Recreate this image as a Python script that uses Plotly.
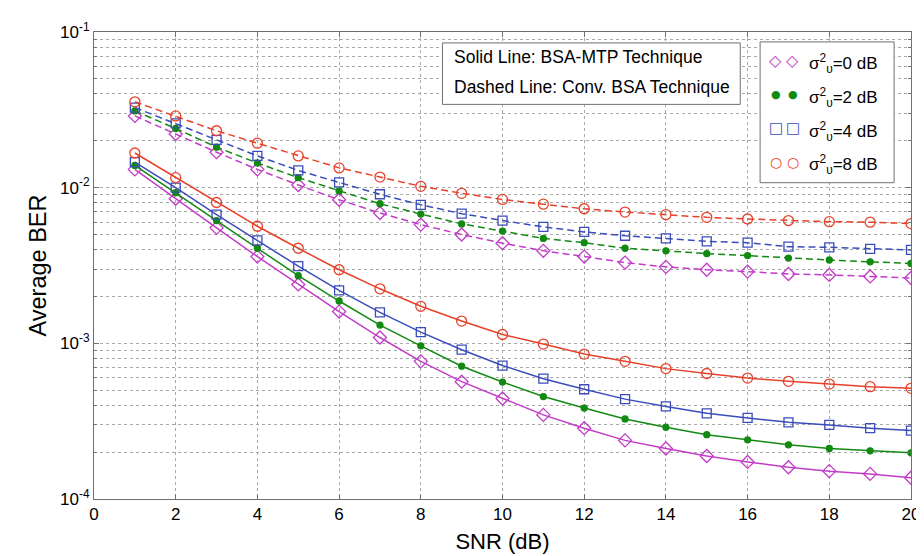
import plotly.graph_objects as go

snr = list(range(1, 21))

# Solid lines: BSA-MTP technique
mtp_0 = [0.0131, 0.00848, 0.00552, 0.00361, 0.00239, 0.00160, 0.00109, 0.000766, 0.000567, 0.000442,
         0.000347, 0.000285, 0.000238, 0.000211, 0.000189, 0.000173, 0.000160, 0.000151, 0.000145, 0.000137]
mtp_2 = [0.0139, 0.00929, 0.00615, 0.00408, 0.00272, 0.00187, 0.00131, 0.000964, 0.000713, 0.000564,
         0.000455, 0.000384, 0.000327, 0.000289, 0.000259, 0.000240, 0.000223, 0.000211, 0.000204, 0.000198]
mtp_4 = [0.0146, 0.0100, 0.00671, 0.00459, 0.00313, 0.00219, 0.00158, 0.00118, 0.000910, 0.000720,
         0.000593, 0.000507, 0.000438, 0.000393, 0.000355, 0.000332, 0.000311, 0.000299, 0.000285, 0.000275]
mtp_8 = [0.0167, 0.0116, 0.00803, 0.00565, 0.00408, 0.00297, 0.00224, 0.00173, 0.00139, 0.00114,
         0.000989, 0.000853, 0.000766, 0.000688, 0.000640, 0.000598, 0.000570, 0.000547, 0.000527, 0.000514]

# Dashed lines: conventional BSA technique
bsa_0 = [0.0289, 0.0221, 0.0169, 0.0131, 0.0104, 0.00836, 0.00687, 0.00579, 0.00500, 0.00440,
         0.00393, 0.00361, 0.00330, 0.00310, 0.00297, 0.00289, 0.00279, 0.00275, 0.00269, 0.00263]
bsa_2 = [0.0311, 0.0240, 0.0182, 0.0144, 0.0116, 0.00953, 0.00788, 0.00677, 0.00585, 0.00526,
         0.00472, 0.00443, 0.00408, 0.00393, 0.00377, 0.00366, 0.00353, 0.00343, 0.00334, 0.00326]
bsa_4 = [0.0327, 0.0259, 0.0203, 0.0160, 0.0129, 0.0108, 0.00907, 0.00776, 0.00681, 0.00615,
         0.00560, 0.00520, 0.00491, 0.00472, 0.00452, 0.00443, 0.00418, 0.00414, 0.00404, 0.00398]
bsa_8 = [0.0356, 0.0289, 0.0232, 0.0193, 0.0160, 0.0134, 0.0117, 0.0102, 0.0092, 0.0084,
         0.00783, 0.00732, 0.00697, 0.00671, 0.00645, 0.00629, 0.00615, 0.00605, 0.00600, 0.00588]

legend_labels = ["σ<sup>2</sup><sub>υ</sub>=0 dB", "σ<sup>2</sup><sub>υ</sub>=2 dB",
                 "σ<sup>2</sup><sub>υ</sub>=4 dB", "σ<sup>2</sup><sub>υ</sub>=8 dB"]
legend_glyphs = ["◇", "●", "□", "○"]
x_ticks = [0, 2, 4, 6, 8, 10, 12, 14, 16, 18, 20]
y_ticks = [1e-4, 1e-3, 1e-2, 1e-1]
y_ticktext = ["10<sup>-4</sup>", "10<sup>-3</sup>", "10<sup>-2</sup>", "10<sup>-1</sup>"]
note_lines = ["Solid Line: BSA-MTP Technique", "Dashed Line: Conv. BSA Technique"]

colors = ["#C23CC8", "#128A12", "#3A4DBA", "#E8412A"]
symbols = ["diamond-open", "circle", "square-open", "circle-open"]
sizes = [10, 6, 9, 10]
glyph_sizes = [16, 11, 15, 14]

mtp = [mtp_0, mtp_2, mtp_4, mtp_8]
bsa = [bsa_0, bsa_2, bsa_4, bsa_8]

FONT = "Liberation Sans, Arial, sans-serif"

# plot-area geometry in pixels (used to place the legend/annotation boxes)
W, H = 924, 556
L, R, T, B = 86, 15, 20, 65
PW, PH = W - L - R, H - T - B


def px(xp):
    return (xp - L) / PW


def py(yp):
    return (H - B - yp) / PH


fig = go.Figure()
for i in range(4):
    mk = dict(symbol=symbols[i], size=sizes[i], color=colors[i], line=dict(color=colors[i], width=1.3))
    fig.add_trace(go.Scatter(x=snr, y=bsa[i], mode="lines+markers", showlegend=False,
                             line=dict(color=colors[i], width=1.5, dash="7px,4px"), marker=mk))
    fig.add_trace(go.Scatter(x=snr, y=mtp[i], mode="lines+markers", showlegend=False,
                             line=dict(color=colors[i], width=1.5), marker=mk))

grid = dict(gridcolor="#a8a8a8", griddash="dot", gridwidth=1)
fig.update_xaxes(range=[0, 20], tickvals=x_ticks, showline=True, linecolor="#707070", linewidth=1,
                 mirror="ticks", ticks="inside", ticklen=5, tickcolor="#707070",
                 showgrid=True, **grid, zeroline=False,
                 tickfont=dict(family=FONT, size=17, color="black"),
                 title=dict(text="SNR (dB)", font=dict(family=FONT, size=22, color="black"),
                            standoff=10))
fig.update_yaxes(type="log", range=[-4, -1], tickvals=y_ticks, ticktext=y_ticktext,
                 showline=True, linecolor="#707070", linewidth=1, mirror="ticks", ticks="inside",
                 ticklen=5, tickcolor="#707070", showgrid=True, **grid,
                 minor=dict(dtick="D1", showgrid=True, gridcolor="#a8a8a8", griddash="dot",
                            ticks="inside", ticklen=3, tickcolor="#707070"),
                 tickfont=dict(family=FONT, size=17, color="black"),
                 title=dict(text="Average BER", font=dict(family=FONT, size=23.5, color="black"),
                            standoff=6))

# annotation box
fig.add_shape(type="rect", xref="paper", yref="paper", x0=px(437), x1=px(737), y0=py(93), y1=py(31),
              line=dict(color="#707070", width=1), fillcolor="white", layer="above")
for j, yy in enumerate([45.7, 75]):
    fig.add_annotation(xref="paper", yref="paper", x=px(447), y=py(yy), xanchor="left", yanchor="middle",
                       text=note_lines[j], showarrow=False,
                       font=dict(family=FONT, size=17.5, color="black"))

# legend box with two sample markers per entry
fig.add_shape(type="rect", xref="paper", yref="paper", x0=px(757), x1=px(892), y0=py(172), y1=py(30),
              line=dict(color="#707070", width=1), fillcolor="white", layer="above")
rows = [50, 84, 118, 152]
for i in range(4):
    for gx in (773, 790):
        fig.add_annotation(xref="paper", yref="paper", x=px(gx), y=py(rows[i] - 1), xanchor="center",
                           yanchor="middle", text=legend_glyphs[i], showarrow=False,
                           font=dict(family="DejaVu Sans", size=glyph_sizes[i], color=colors[i]))
    fig.add_annotation(xref="paper", yref="paper", x=px(804), y=py(rows[i] + 2), xanchor="left",
                       yanchor="middle", text=legend_labels[i], showarrow=False,
                       font=dict(family=FONT, size=17, color="black"))

fig.update_layout(
    width=W, height=H, margin=dict(l=L, r=R, t=T, b=B),
    paper_bgcolor="white", plot_bgcolor="white", showlegend=False,
)

fig.write_html("out.html")
